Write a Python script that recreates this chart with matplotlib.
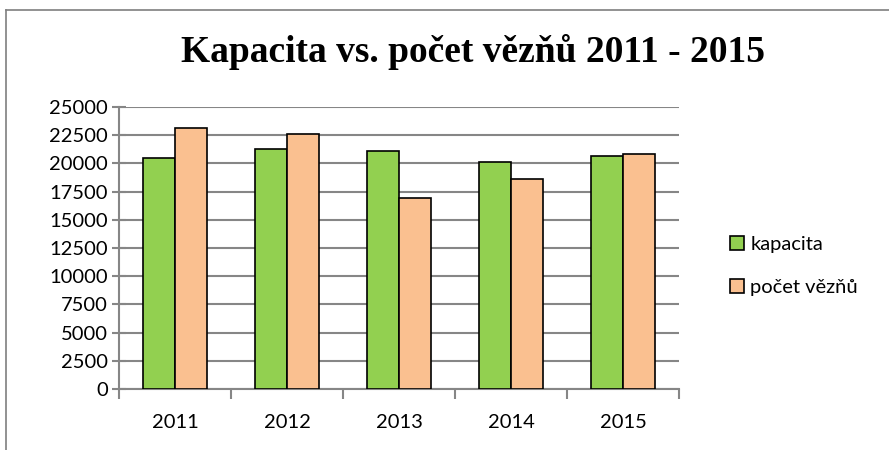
import matplotlib
matplotlib.use("Agg")
import matplotlib.pyplot as plt
import numpy as np
from matplotlib.lines import Line2D
from matplotlib.patches import Patch

years = ["2011", "2012", "2013", "2014", "2015"]
kapacita = [20500, 21300, 21100, 20100, 20700]
pocet_veznu = [23150, 22650, 16900, 18650, 20850]
series_names = ["kapacita", "počet vězňů"]
title = "Kapacita vs. počet vězňů 2011 - 2015"
y_ticks = list(range(0, 25001, 2500))

green = "#92D050"
peach = "#FAC090"
grid_c = "#868686"

plt.rcParams['font.family'] = ['Lato', 'DejaVu Sans']

fig = plt.figure(figsize=(8.89, 4.5), dpi=100)
ax = fig.add_axes([119/889, 1-389/450, 560/889, 282/450])

x = np.arange(len(years))
w = 0.286
ax.bar(x - w/2, kapacita, w, color=green, edgecolor="black", linewidth=1.2, label=series_names[0], zorder=3)
ax.bar(x + w/2, pocet_veznu, w, color=peach, edgecolor="black", linewidth=1.2, label=series_names[1], zorder=3)

ax.set_xlim(-0.5, len(years) - 0.5)
ax.set_ylim(0, 25000)
ax.set_yticks(y_ticks)
ax.set_yticklabels([str(v) for v in y_ticks], fontsize=14.5)
ax.yaxis.grid(True, color=grid_c, linewidth=1.5, zorder=0)
ax.set_axisbelow(True)

ax.set_xticks(x)
ax.set_xticklabels(years, fontsize=14.5)
ax.set_xticks(np.arange(-0.5, len(years)), minor=True)
ax.tick_params(axis='x', which='major', length=0, pad=18)
ax.tick_params(axis='x', which='minor', length=7, width=1.5, color=grid_c, direction='out')
ax.tick_params(axis='y', length=10, width=1.5, color=grid_c, direction='inout', pad=3)

for s in ["top", "right"]:
    ax.spines[s].set_visible(False)
for s in ["left", "bottom"]:
    ax.spines[s].set_color(grid_c)
    ax.spines[s].set_linewidth(1.5)

fig.text(0.5 * (180 + 765) / 889, 1 - 52/450, title, ha="center", va="center",
         fontsize=27, fontweight="bold", family="Liberation Serif")

handles = [Patch(facecolor=green, edgecolor="black", linewidth=1.2),
           Patch(facecolor=peach, edgecolor="black", linewidth=1.2)]
fig.legend(handles, series_names, loc="center left", bbox_to_anchor=(712/889, 1 - 266/450),
           frameon=False, fontsize=14.5, handlelength=0.7, handleheight=0.7,
           handletextpad=0.3, labelspacing=1.3)

# chart border (partially visible)
fig.add_artist(Line2D([6/889, 1], [1 - 10/450, 1 - 10/450], color="#7f7f7f", linewidth=1.2, transform=fig.transFigure))
fig.add_artist(Line2D([6/889, 6/889], [0, 1 - 10/450], color="#7f7f7f", linewidth=1.2, transform=fig.transFigure))

fig.savefig("out.png", dpi=100)
